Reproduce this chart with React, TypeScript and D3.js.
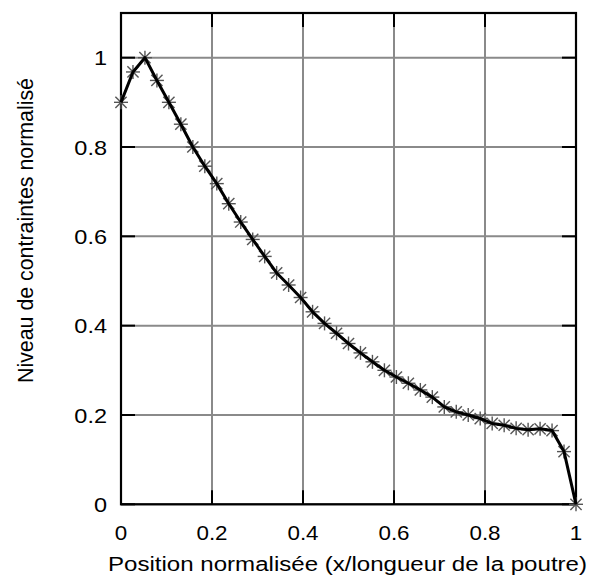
import React from "react";
import * as d3 from "d3";

const xValues: number[] = Array.from({ length: 39 }, (_, i) => i / 38);
const yValues: number[] = [
  0.9, 0.968, 1.0, 0.949, 0.9, 0.851, 0.8, 0.757, 0.718, 0.673,
  0.632, 0.593, 0.555, 0.518, 0.491, 0.463, 0.431, 0.405, 0.383, 0.36,
  0.339, 0.319, 0.3, 0.285, 0.271, 0.256, 0.24, 0.218, 0.207, 0.2,
  0.192, 0.181, 0.177, 0.17, 0.167, 0.169, 0.165, 0.118, 0.0,
];
const xTicks: number[] = [0, 0.2, 0.4, 0.6, 0.8, 1];
const yTicks: number[] = [0, 0.2, 0.4, 0.6, 0.8, 1];
const xTitle = "Position normalisée (x/longueur de la poutre)";
const yTitle = "Niveau de contraintes normalisé";

export default function App() {
  const W = 590, H = 587;
  const L = 121, R = 576, T = 13, B = 504.3;
  const x = d3.scaleLinear().domain([0, 1]).range([L, R]);
  const y = d3.scaleLinear().domain([0, 1.1]).range([B, T]);
  const pts = xValues.map((v, i) => [v, yValues[i]] as [number, number]);
  const line = d3.line<[number, number]>().x(d => x(d[0])).y(d => y(d[1]));
  const font = "'Liberation Sans', Arial, sans-serif";
  const tl = 14;
  const m = 7;
  const fmt = d3.format("~g");
  return (
    <svg width={W} height={H} style={{ position: "absolute", left: 0, top: 0, background: "#fff" }}>
      <rect x={0} y={0} width={W} height={H} fill="#fff" />
      {xTicks.map(t => (
        <line key={"gx" + t} x1={x(t)} x2={x(t)} y1={T} y2={B} stroke="#8a8a8a" strokeWidth={2} />
      ))}
      {yTicks.map(t => (
        <line key={"gy" + t} x1={L} x2={R} y1={y(t)} y2={y(t)} stroke="#8a8a8a" strokeWidth={2} />
      ))}
      {xTicks.map(t => (
        <g key={"tx" + t}>
          <line x1={x(t)} x2={x(t)} y1={B} y2={B - tl} stroke="#000" strokeWidth={2} />
          <line x1={x(t)} x2={x(t)} y1={T} y2={T + tl} stroke="#000" strokeWidth={2} />
        </g>
      ))}
      {yTicks.map(t => (
        <g key={"ty" + t}>
          <line x1={L} x2={L + tl} y1={y(t)} y2={y(t)} stroke="#000" strokeWidth={2} />
          <line x1={R} x2={R - tl} y1={y(t)} y2={y(t)} stroke="#000" strokeWidth={2} />
        </g>
      ))}
      <rect x={L} y={T} width={R - L} height={B - T} fill="none" stroke="#000" strokeWidth={2.2} />
      {pts.map((p, i) => {
        const cx = x(p[0]), cy = y(p[1]);
        return (
          <g key={"m" + i} stroke="#555" strokeWidth={1.4}>
            <line x1={cx - m} x2={cx + m} y1={cy} y2={cy} />
            <line x1={cx} x2={cx} y1={cy - m} y2={cy + m} />
            <line x1={cx - m * 0.8} x2={cx + m * 0.8} y1={cy - m * 0.8} y2={cy + m * 0.8} />
            <line x1={cx - m * 0.8} x2={cx + m * 0.8} y1={cy + m * 0.8} y2={cy - m * 0.8} />
          </g>
        );
      })}
      <path d={line(pts) || ""} fill="none" stroke="#000" strokeWidth={3} strokeLinejoin="round" />
      {xTicks.map(t => (
        <text key={"lx" + t} transform={`translate(${x(t)},540) scale(1.12,1)`} textAnchor="middle" fontFamily={font} fontSize={20} fill="#000">
          {fmt(t)}
        </text>
      ))}
      {yTicks.map(t => (
        <text key={"ly" + t} transform={`translate(107,${y(t)}) scale(1.12,1)`} dy="0.36em" textAnchor="end" fontFamily={font} fontSize={21} fill="#000">
          {fmt(t)}
        </text>
      ))}
      <text x={347.5} y={571} textAnchor="middle" fontFamily={font} fontSize={20} fill="#000" textLength={479} lengthAdjust="spacingAndGlyphs">
        {xTitle}
      </text>
      <text transform={`translate(33,230.5) rotate(-90)`} textAnchor="middle" fontFamily={font} fontSize={22} fill="#000" textLength={305} lengthAdjust="spacingAndGlyphs">
        {yTitle}
      </text>
    </svg>
  );
}
